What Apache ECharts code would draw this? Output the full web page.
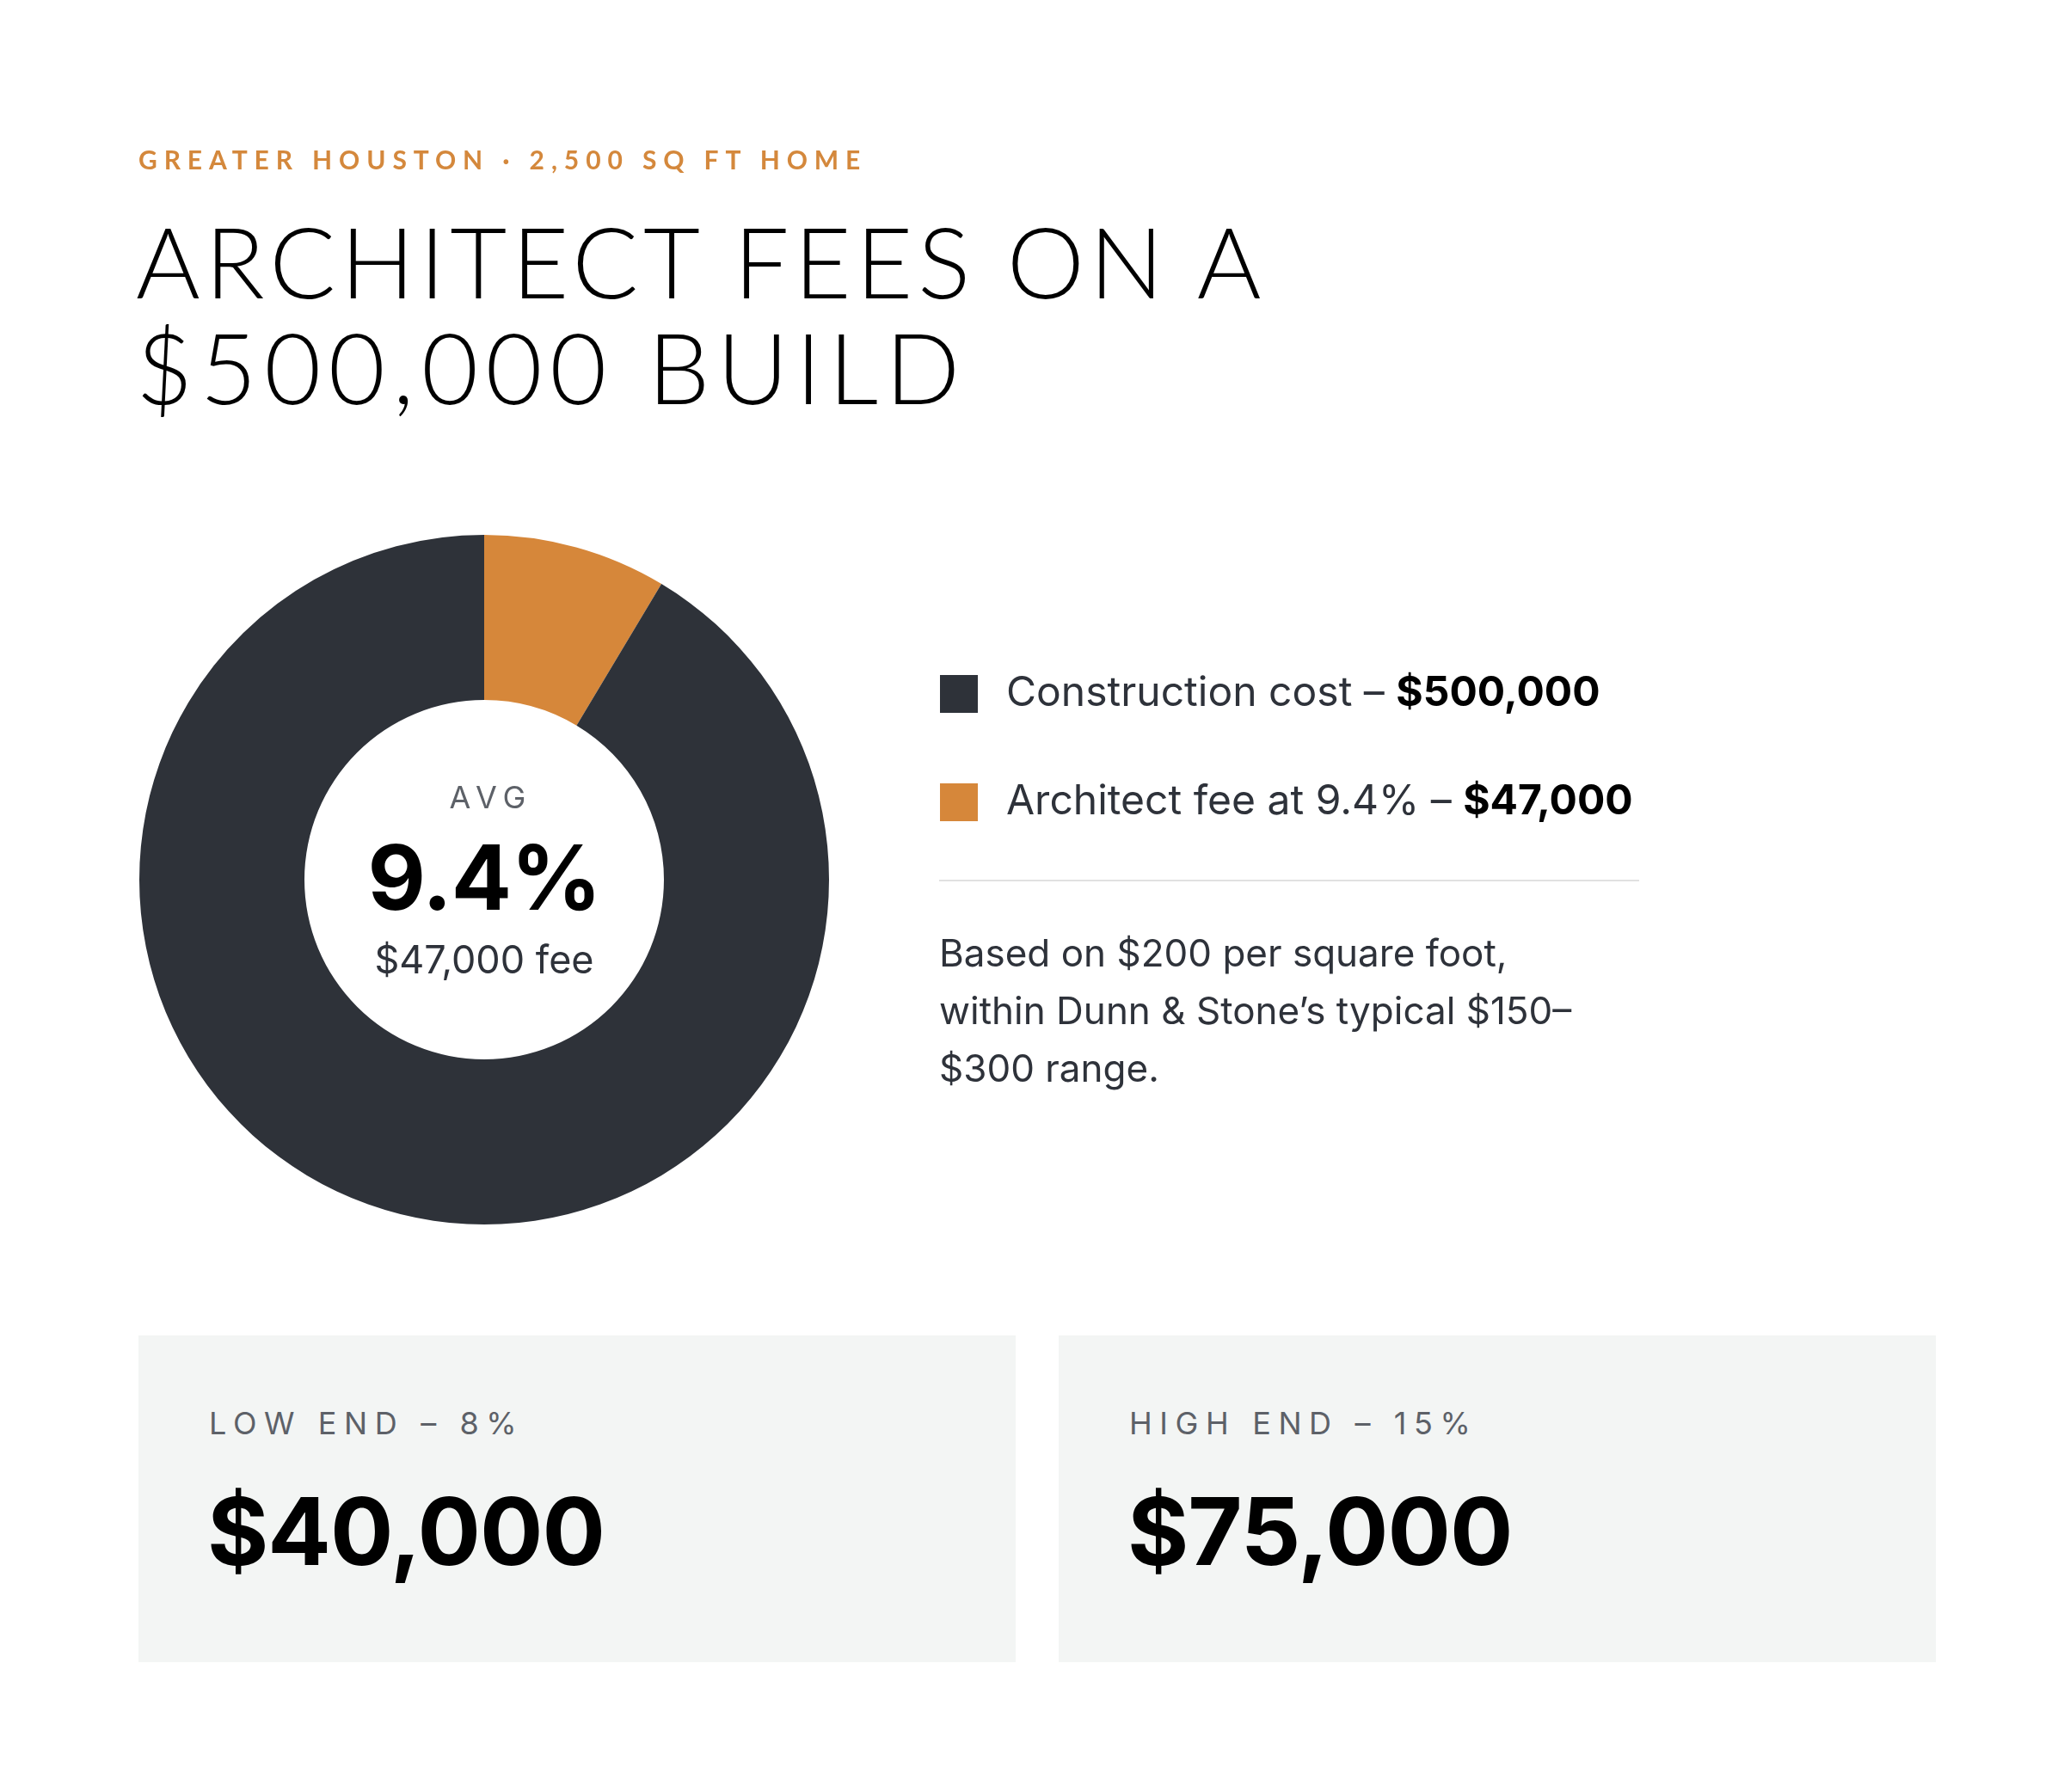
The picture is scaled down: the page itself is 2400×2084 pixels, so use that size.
<!DOCTYPE html>
<html>
<head>
<meta charset="utf-8">
<script src="https://cdn.jsdelivr.net/npm/echarts@6/dist/echarts.min.js"></script>
<style>
  html, body { margin: 0; padding: 0; background: #fff; }
  body { position: relative; width: 2400px; height: 2084px; overflow: hidden; font-family: Inter, "Noto Sans", sans-serif; }
  #chart { position: absolute; left: 0; top: 0; width: 2400px; height: 2084px; }
  .t { position: absolute; white-space: nowrap; line-height: 1.2; z-index: 2; }
  .eyebrow { left: 161px; top: 167px; font-family: Lato, sans-serif; font-size: 30px; font-weight: 700; letter-spacing: 7.9px; color: #d4883c; }
  .title { left: 158px; top: 241px; font-family: Lato, sans-serif; font-size: 114px; line-height: 123px; font-weight: 300; color: #000; }
  .title .l1 { letter-spacing: 5.8px; }
  .title .l2 { letter-spacing: 8.5px; }
  .center { left: 363px; width: 400px; text-align: center; }
  .avg { top: 906px; font-size: 36px; letter-spacing: 8px; padding-left: 8px; color: #5d6168; }
  .rate { top: 958px; font-size: 104px; font-weight: 700; color: #000; letter-spacing: -1px; }
  .fee { top: 1089px; font-size: 45px; color: #2e323a; }
  .rule { position: absolute; left: 1092px; top: 1023px; width: 814px; height: 2px; background: #e1e1e1; }
  .note { left: 1092px; top: 1075px; font-size: 44px; line-height: 67px; color: #2e323a; }
  .box { position: absolute; top: 1553px; width: 1020px; height: 380px; background: #f3f5f4; }
  .box .lbl { position: absolute; left: 82px; top: 81px; font-size: 36px; line-height: 1.2; letter-spacing: 8.6px; color: #5d6168; white-space: nowrap; }
  .box .num { position: absolute; left: 80px; top: 162px; font-size: 109px; line-height: 1.2; font-weight: 700; color: #000; white-space: nowrap; letter-spacing: -1px; }
</style>
</head>
<body>
<div id="chart"></div>
<div class="t eyebrow">GREATER HOUSTON · 2,500 SQ FT HOME</div>
<div class="t title"><span class="l1">ARCHITECT FEES ON A</span><br><span class="l2">$500,000 BUILD</span></div>
<div class="t center avg">AVG</div>
<div class="t center rate" id="rate"></div>
<div class="t center fee" id="fee"></div>
<div class="rule"></div>
<div class="t note">Based on $200 per square foot,<br>within Dunn &amp; Stone’s typical $150–<br>$300 range.</div>
<div id="boxes"></div>
<script>
  // chart data
  const categories = ["Construction cost", "Architect fee at 9.4%"];
  const values = [500000, 47000];
  const rangeLabels = ["LOW END – 8%", "HIGH END – 15%"];
  const rangeValues = [40000, 75000];

  const sliceColors = ["#2e3239", "#d6873a"];
  const fmt = v => "$" + v.toLocaleString("en-US");

  document.getElementById("rate").textContent = (values[1] / values[0] * 100).toFixed(1) + "%";
  document.getElementById("fee").textContent = fmt(values[1]) + " fee";

  const boxes = document.getElementById("boxes");
  rangeLabels.forEach((label, i) => {
    const box = document.createElement("div");
    box.className = "box";
    box.style.left = (161 + i * 1070) + "px";
    box.innerHTML = '<div class="lbl"></div><div class="num"></div>';
    box.querySelector(".lbl").textContent = label;
    box.querySelector(".num").textContent = fmt(rangeValues[i]);
    boxes.appendChild(box);
  });

  const chart = echarts.init(document.getElementById("chart"));
  // fee first so it starts at 12 o'clock going clockwise
  const pieData = [1, 0].map(i => ({
    name: categories[i],
    value: values[i],
    itemStyle: { color: sliceColors[i] }
  }));

  const option = {
    animation: false,
    legend: {
      orient: "vertical",
      left: 1088,
      top: 778,
      itemWidth: 44,
      itemHeight: 44,
      itemGap: 78,
      icon: "rect",
      selectedMode: false,
      data: categories,
      formatter: name => "{a|" + name + " – }{b|" + fmt(values[categories.indexOf(name)]) + "}",
      textStyle: {
        rich: {
          a: { fontSize: 48, fontFamily: "Inter", color: "#2e323a", lineHeight: 44, padding: [0, 0, 0, 28] },
          b: { fontSize: 48, fontFamily: "Inter", fontWeight: "bold", color: "#000", lineHeight: 44 }
        }
      }
    },
    series: [
      {
        type: "pie",
        center: [563, 1023],
        radius: [209, 401],
        silent: true,
        label: { show: false },
        labelLine: { show: false },
        itemStyle: { borderWidth: 0 },
        data: pieData
      }
    ]
  };
  chart.setOption(option);
</script>
</body>
</html>
